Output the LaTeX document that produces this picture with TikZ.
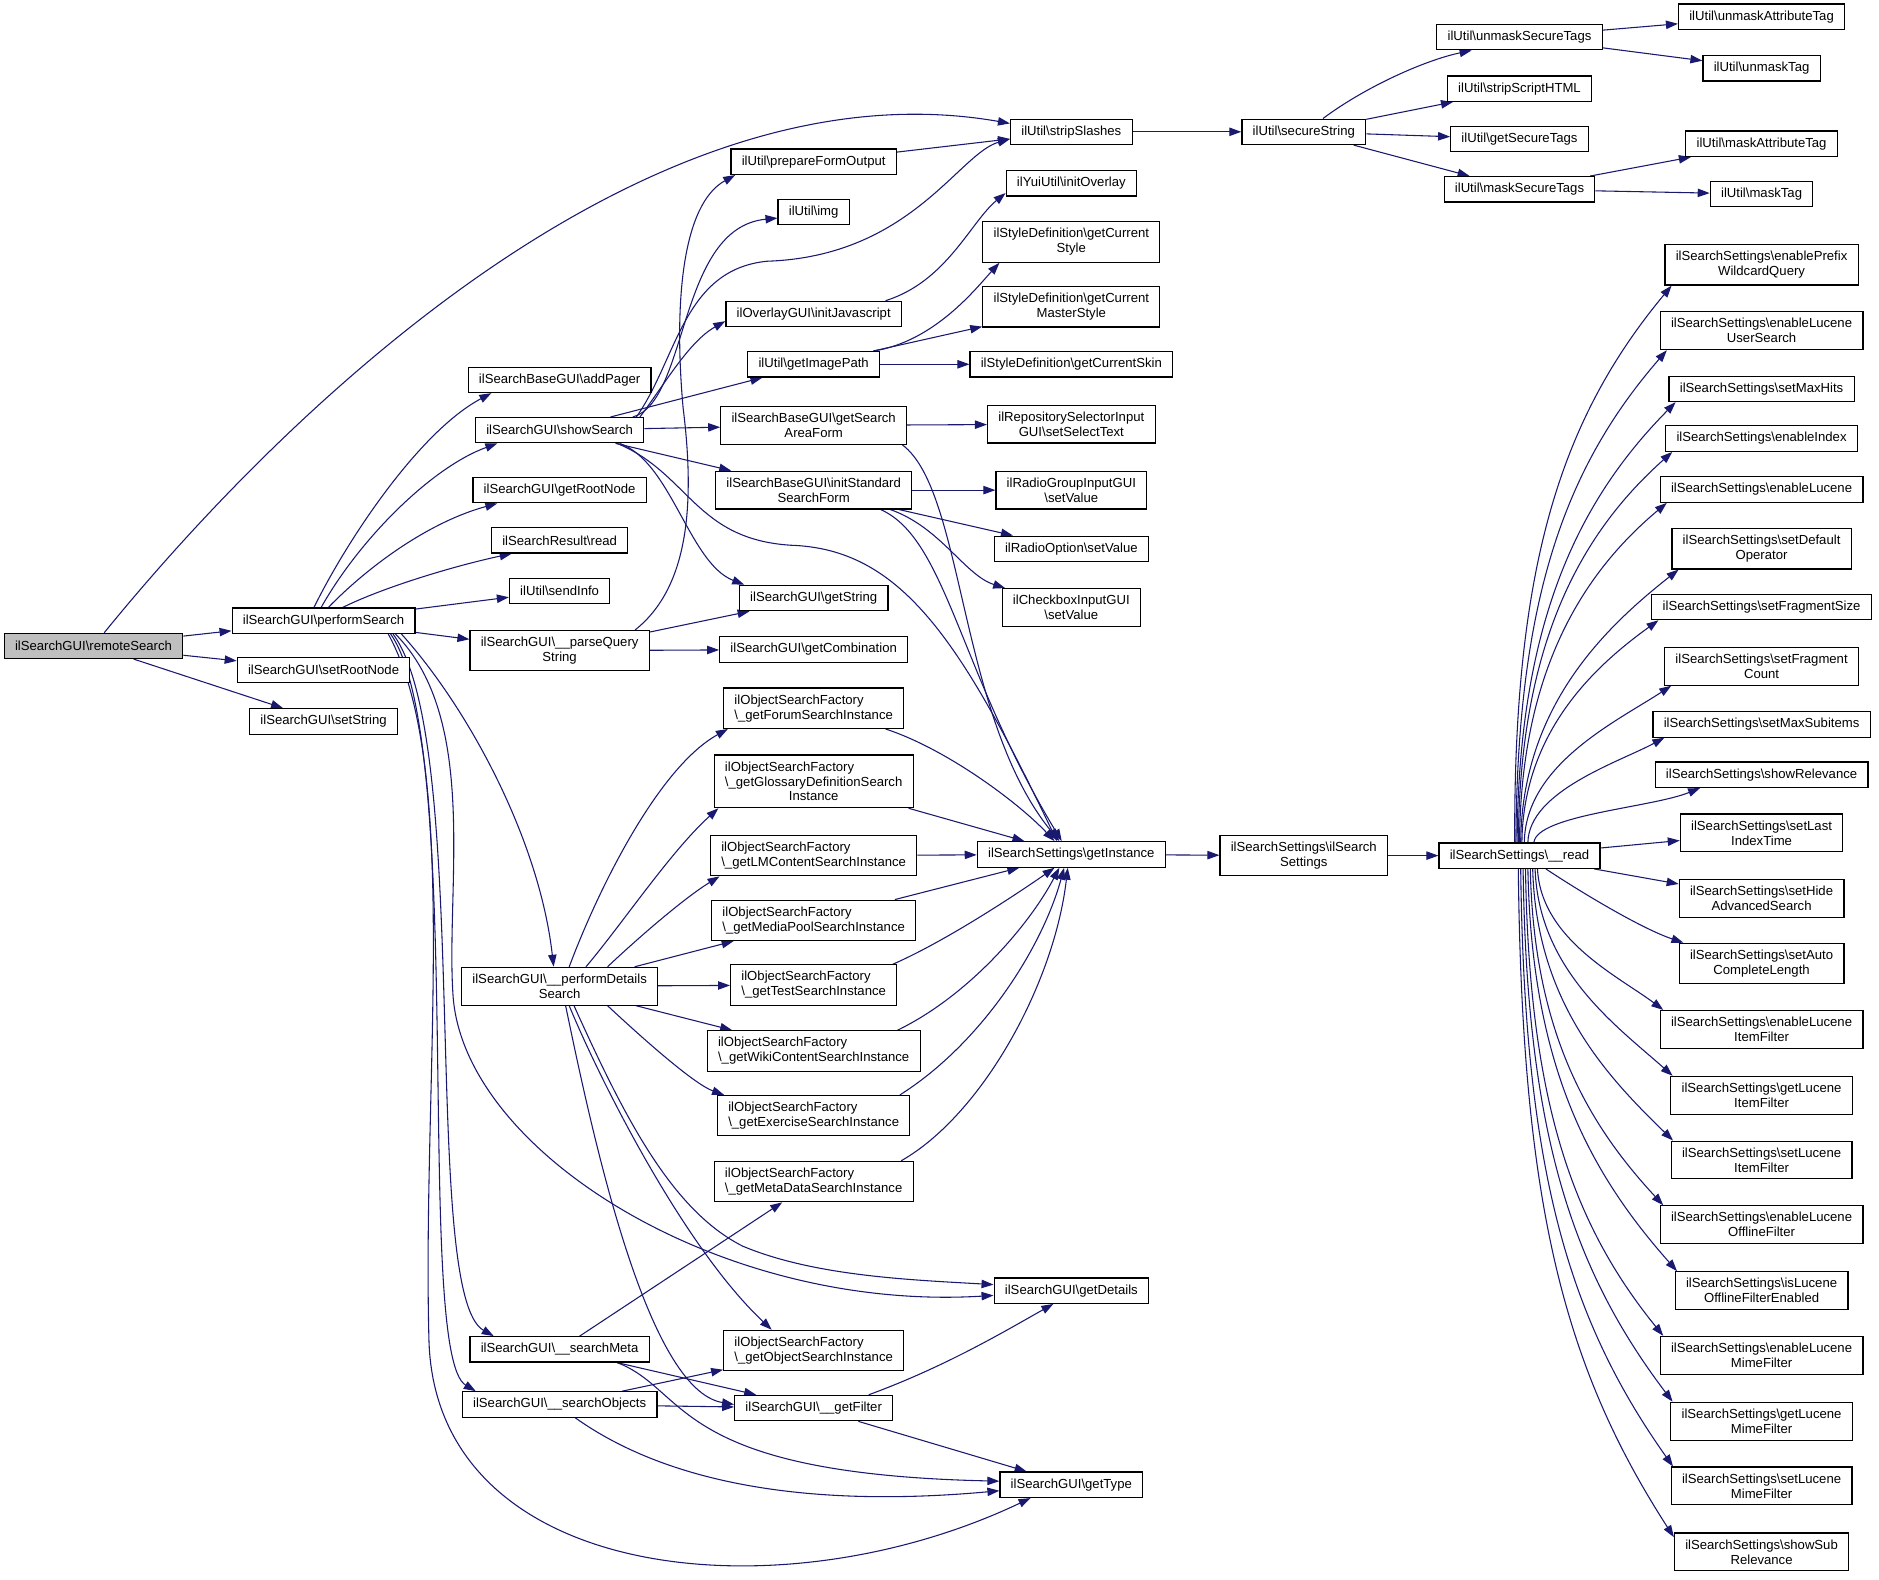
\documentclass[tikz,border=0pt]{standalone}
\usepackage{fontspec}
\setmainfont{Liberation Sans}
\usetikzlibrary{arrows.meta,backgrounds}
\definecolor{Edge}{RGB}{25,25,112}
\definecolor{Gfill}{RGB}{191,191,191}
\newcommand{\bsl}{\textbackslash}

\begin{document}
\begin{tikzpicture}[x=1bp,y=-1bp,line cap=round,
  fn/.style={draw,line width=1pt,fill=white,inner xsep=9bp,inner ysep=5.5bp,minimum height=21bp,font=\fontsize{11}{12.5}\selectfont,align=center},
  fac/.style={fn,align=left},
  call/.style={draw=Edge,line width=0.9pt,-{Triangle[length=10bp,width=7bp]}}]
\path[use as bounding box] (0,0) rectangle (1568,1317.7);
\node[fn,fill=Gfill] (rmt) at (78,539) {ilSearchGUI\bsl remoteSearch};
\node[fn] (prf) at (270,518) {ilSearchGUI\bsl performSearch};
\node[fn] (srn) at (270,559) {ilSearchGUI\bsl setRootNode};
\node[fn] (sst) at (270,602) {ilSearchGUI\bsl setString};
\node[fn] (apg) at (467,317) {ilSearchBaseGUI\bsl addPager};
\node[fn] (shw) at (467,359) {ilSearchGUI\bsl showSearch};
\node[fn] (grn) at (467,409) {ilSearchGUI\bsl getRootNode};
\node[fn] (rrd) at (467,451) {ilSearchResult\bsl read};
\node[fn] (sin) at (467,493) {ilUtil\bsl sendInfo};
\node[fn] (pqs) at (467,543) {ilSearchGUI\bsl\_\_parseQuery\\String};
\node[fn] (pds) at (467,823) {ilSearchGUI\bsl\_\_performDetails\\Search};
\node[fn] (smt) at (467,1126) {ilSearchGUI\bsl\_\_searchMeta};
\node[fn] (sob) at (467,1172) {ilSearchGUI\bsl\_\_searchObjects};
\node[fn] (pfo) at (679,135) {ilUtil\bsl prepareFormOutput};
\node[fn] (img) at (679,177) {ilUtil\bsl img};
\node[fn] (ijs) at (679,262) {ilOverlayGUI\bsl initJavascript};
\node[fn] (gip) at (679,304) {ilUtil\bsl getImagePath};
\node[fn] (gsa) at (679,355) {ilSearchBaseGUI\bsl getSearch\\AreaForm};
\node[fn] (iss) at (679,409) {ilSearchBaseGUI\bsl initStandard\\SearchForm};
\node[fn] (gst) at (679,499) {ilSearchGUI\bsl getString};
\node[fn] (gcb) at (679,542) {ilSearchGUI\bsl getCombination};
\node[fac] (fForum) at (679,591) {ilObjectSearchFactory\\\bsl\_getForumSearchInstance};
\node[fac] (fGloss) at (679,652) {ilObjectSearchFactory\\\bsl\_getGlossaryDefinitionSearch\\\hspace*{\fill}Instance\hspace*{\fill}};
\node[fac] (fLM) at (679,714) {ilObjectSearchFactory\\\bsl\_getLMContentSearchInstance};
\node[fac] (fMedia) at (679,768) {ilObjectSearchFactory\\\bsl\_getMediaPoolSearchInstance};
\node[fac] (fTest) at (679,822) {ilObjectSearchFactory\\\bsl\_getTestSearchInstance};
\node[fac] (fWiki) at (679,877) {ilObjectSearchFactory\\\bsl\_getWikiContentSearchInstance};
\node[fac] (fExer) at (679,931) {ilObjectSearchFactory\\\bsl\_getExerciseSearchInstance};
\node[fac] (fMeta) at (679,986) {ilObjectSearchFactory\\\bsl\_getMetaDataSearchInstance};
\node[fac] (fObj) at (679,1127) {ilObjectSearchFactory\\\bsl\_getObjectSearchInstance};
\node[fn] (gfl) at (679,1175) {ilSearchGUI\bsl\_\_getFilter};
\node[fn] (ssl) at (894,110) {ilUtil\bsl stripSlashes};
\node[fn] (iov) at (894,153) {ilYuiUtil\bsl initOverlay};
\node[fn] (gcs) at (894,202) {ilStyleDefinition\bsl getCurrent\\Style};
\node[fn] (gcm) at (894,256) {ilStyleDefinition\bsl getCurrent\\MasterStyle};
\node[fn] (gsk) at (894,304) {ilStyleDefinition\bsl getCurrentSkin};
\node[fn] (sel) at (894,354) {ilRepositorySelectorInput\\GUI\bsl setSelectText};
\node[fn] (rgv) at (894,409) {ilRadioGroupInputGUI\\\bsl setValue};
\node[fn] (rov) at (894,458) {ilRadioOption\bsl setValue};
\node[fn] (cbv) at (894,507) {ilCheckboxInputGUI\\\bsl setValue};
\node[fn] (gin) at (894,713) {ilSearchSettings\bsl getInstance};
\node[fn] (gdt) at (894,1077) {ilSearchGUI\bsl getDetails};
\node[fn] (gty) at (894,1239) {ilSearchGUI\bsl getType};
\node[fn] (sec) at (1088,110) {ilUtil\bsl secureString};
\node[fn] (ctor) at (1088,714) {ilSearchSettings\bsl ilSearch\\Settings};
\node[fn] (ust) at (1268,31) {ilUtil\bsl unmaskSecureTags};
\node[fn] (ssh) at (1268,74) {ilUtil\bsl stripScriptHTML};
\node[fn] (gtg) at (1268,116) {ilUtil\bsl getSecureTags};
\node[fn] (mst) at (1268,158) {ilUtil\bsl maskSecureTags};
\node[fn] (rd) at (1268,714) {ilSearchSettings\bsl\_\_read};
\node[fn] (uat) at (1470,14) {ilUtil\bsl unmaskAttributeTag};
\node[fn] (utg) at (1470,57) {ilUtil\bsl unmaskTag};
\node[fn] (mat) at (1470,120) {ilUtil\bsl maskAttributeTag};
\node[fn] (mtg) at (1470,162) {ilUtil\bsl maskTag};
\node[fn] (ePfx) at (1470,221) {ilSearchSettings\bsl enablePrefix\\WildcardQuery};
\node[fn] (eLus) at (1470,276) {ilSearchSettings\bsl enableLucene\\UserSearch};
\node[fn] (sMax) at (1470,324.5) {ilSearchSettings\bsl setMaxHits};
\node[fn] (eIdx) at (1470,366) {ilSearchSettings\bsl enableIndex};
\node[fn] (eLuc) at (1470,408.5) {ilSearchSettings\bsl enableLucene};
\node[fn] (sOp) at (1470,458) {ilSearchSettings\bsl setDefault\\Operator};
\node[fn] (sFrs) at (1470,506.5) {ilSearchSettings\bsl setFragmentSize};
\node[fn] (sFrc) at (1470,556) {ilSearchSettings\bsl setFragment\\Count};
\node[fn] (sSub) at (1470,604.5) {ilSearchSettings\bsl setMaxSubitems};
\node[fn] (shRel) at (1470,646.5) {ilSearchSettings\bsl showRelevance};
\node[fn] (sLast) at (1470,695) {ilSearchSettings\bsl setLast\\IndexTime};
\node[fn] (sHide) at (1470,750) {ilSearchSettings\bsl setHide\\AdvancedSearch};
\node[fn] (sAuto) at (1470,804) {ilSearchSettings\bsl setAuto\\CompleteLength};
\node[fn] (eItm) at (1470,859) {ilSearchSettings\bsl enableLucene\\ItemFilter};
\node[fn] (gItm) at (1470,914) {ilSearchSettings\bsl getLucene\\ItemFilter};
\node[fn] (sItm) at (1470,968) {ilSearchSettings\bsl setLucene\\ItemFilter};
\node[fn] (eOff) at (1470,1022) {ilSearchSettings\bsl enableLucene\\OfflineFilter};
\node[fn] (iOff) at (1470,1077) {ilSearchSettings\bsl isLucene\\OfflineFilterEnabled};
\node[fn] (eMime) at (1470,1131) {ilSearchSettings\bsl enableLucene\\MimeFilter};
\node[fn] (gMime) at (1470,1186) {ilSearchSettings\bsl getLucene\\MimeFilter};
\node[fn] (sMime) at (1470,1240) {ilSearchSettings\bsl setLucene\\MimeFilter};
\node[fn] (shSub) at (1470,1295) {ilSearchSettings\bsl showSub\\Relevance};
\begin{scope}[on background layer]
\draw[call] (rmt) .. controls (240,340) and (540,50) .. ([yshift=7bp]ssl.west);
\draw[call] (rmt) -- (prf);
\draw[call] (rmt) -- (srn);
\draw[call] (rmt) -- (sst);
\draw[call] ([xshift=-8bp]prf.north) .. controls (290,450) and (350,360) .. ([xshift=-57bp]apg.south);
\draw[call] ([xshift=-2bp]prf.north) .. controls (300,450) and (360,390) .. ([xshift=-52bp]shw.south);
\draw[call] ([xshift=4bp]prf.north) .. controls (310,470) and (360,435) .. ([xshift=-52bp]grn.south);
\draw[call] ([xshift=16bp]prf.north) .. controls (320,490) and (380,472) .. ([xshift=-40bp]rrd.south);
\draw[call] (prf) -- (sin);
\draw[call] (prf) -- (pqs);
\draw[call] ([xshift=65bp]prf.south) .. controls (390,590) and (450,700) .. ([xshift=-5bp]pds.north);
\draw[call] ([xshift=60bp]prf.south) .. controls (400,600) and (372,740) .. (378,830) .. controls (386,960) and (600,1095) .. ([yshift=-4bp]gdt.west);
\draw[call] ([xshift=58bp]prf.south) .. controls (395,620) and (350,1080) .. ([xshift=-55bp]smt.north);
\draw[call] ([xshift=56bp]prf.south) .. controls (390,620) and (345,1130) .. ([xshift=-70bp]sob.north);
\draw[call] ([xshift=54bp]prf.south) .. controls (385,640) and (352,900) .. (358,1120) .. controls (365,1320) and (650,1350) .. ([xshift=-34bp]gty.south);
\draw[call] ([xshift=61bp]shw.north) .. controls (575,335) and (565,190) .. ([yshift=-5bp]img.west);
\draw[call] ([xshift=64bp]shw.north) .. controls (565,300) and (570,225) .. (640,218) .. controls (760,214) and (800,128) .. ([yshift=-6bp]ssl.west);
\draw[call] ([xshift=67bp]shw.north) .. controls (555,320) and (575,285) .. ([yshift=-6bp]ijs.west);
\draw[call] (shw) -- (gip);
\draw[call] (shw) -- (gsa);
\draw[call] (shw) -- (iss);
\draw[call] ([xshift=50bp]shw.south) .. controls (560,385) and (575,470) .. ([xshift=-58bp]gst.north);
\draw[call] ([xshift=48bp]shw.south) .. controls (575,395) and (580,450) .. (660,455) .. controls (750,458) and (800,530) .. ([xshift=-12bp]gin.north);
\draw[call] ([xshift=63bp]pqs.north) .. controls (575,490) and (580,420) .. (570,340) .. controls (562,250) and (570,170) .. ([xshift=4bp]pfo.south west);
\draw[call] (pqs) -- (gst);
\draw[call] (pqs) -- (gcb);
\draw[call] ([xshift=8bp]pds.north) .. controls (500,740) and (550,640) .. ([xshift=4bp]fForum.south west);
\draw[call] ([xshift=22bp]pds.north) .. controls (520,770) and (560,710) .. ([xshift=4bp]fGloss.south west);
\draw[call] ([xshift=40bp]pds.north) .. controls (530,785) and (570,750) .. ([xshift=8bp]fLM.south west);
\draw[call] (pds) -- (fMedia);
\draw[call] (pds) -- (fTest);
\draw[call] (pds) -- (fWiki);
\draw[call] ([xshift=40bp]pds.south) .. controls (540,870) and (580,905) .. ([xshift=6bp]fExer.north west);
\draw[call] ([xshift=8bp]pds.south) .. controls (500,900) and (570,1040) .. ([xshift=-35bp]fObj.north);
\draw[call] ([xshift=5bp]pds.south) .. controls (495,950) and (540,1160) .. ([yshift=3bp]gfl.west);
\draw[call] ([xshift=12bp]pds.south) .. controls (520,930) and (560,1010) .. (620,1040) .. controls (680,1065) and (760,1068) .. ([yshift=5bp]gdt.west);
\draw[call] (smt) -- (fMeta);
\draw[call] (smt) -- (gfl);
\draw[call] ([xshift=48bp]smt.south) .. controls (575,1160) and (560,1230) .. ([yshift=3bp]gty.west);
\draw[call] (sob) -- (fObj);
\draw[call] (sob) -- (gfl);
\draw[call] ([xshift=13bp]sob.south) .. controls (560,1240) and (680,1258) .. ([yshift=-5bp]gty.west);
\draw[call] ([xshift=46bp]gfl.north) .. controls (790,1140) and (840,1110) .. ([xshift=-15bp]gdt.south);
\draw[call] (gfl) -- (gty);
\draw[call] ([xshift=60bp]fForum.south) .. controls (790,625) and (850,670) .. ([xshift=-14bp]gin.north);
\draw[call] (fGloss) -- (gin);
\draw[call] (fLM) -- (gin);
\draw[call] (fMedia) -- (gin);
\draw[call] ([xshift=66bp]fTest.north) .. controls (790,785) and (850,745) .. ([xshift=-14bp]gin.south);
\draw[call] ([xshift=70bp]fWiki.north) .. controls (810,830) and (860,770) .. ([xshift=-10bp]gin.south);
\draw[call] ([xshift=72bp]fExer.north) .. controls (820,870) and (870,790) .. ([xshift=-6bp]gin.south);
\draw[call] ([xshift=73bp]fMeta.north) .. controls (820,930) and (880,820) .. ([xshift=-3bp]gin.south);
\draw[call] (gsa) -- (sel);
\draw[call] ([xshift=-4bp]gsa.south east) .. controls (805,410) and (800,600) .. ([xshift=-10bp]gin.north);
\draw[call] (iss) -- (rgv);
\draw[call] (iss) -- (rov);
\draw[call] ([xshift=56bp]iss.south) .. controls (790,450) and (800,560) .. ([xshift=-8bp]gin.north);
\draw[call] ([xshift=64bp]iss.south) .. controls (785,440) and (805,480) .. ([xshift=3bp]cbv.north west);
\draw[call] ([xshift=50bp]gip.north) .. controls (780,285) and (815,240) .. ([xshift=-60bp]gcs.south);
\draw[call] (gip) -- (gcm);
\draw[call] (gip) -- (gsk);
\draw[call] ([xshift=60bp]ijs.north) .. controls (790,235) and (810,185) .. ([yshift=3bp]iov.south west);
\draw[call] (pfo) -- (ssl);
\draw[call] (ssl) -- (sec);
\draw[call] ([xshift=16bp]sec.north) .. controls (1140,72) and (1190,50) .. ([xshift=-40bp]ust.south);
\draw[call] (sec) -- (ssh);
\draw[call] (sec) -- (gtg);
\draw[call] (sec) -- (mst);
\draw[call] (ust) -- (uat);
\draw[call] (ust) -- (utg);
\draw[call] (mst) -- (mat);
\draw[call] (mst) -- (mtg);
\draw[call] (gin) -- (ctor);
\draw[call] (ctor) -- (rd);
\draw[call] ([xshift=-4bp]rd.north) .. controls (1263,471) and (1303,349) .. ([xshift=6bp]ePfx.south west);
\draw[call] ([xshift=-3bp]rd.north) .. controls (1266,498) and (1307,389) .. ([xshift=6bp]eLus.south west);
\draw[call] ([xshift=-2bp]rd.north) .. controls (1267,520) and (1317,418) .. ([xshift=6bp]sMax.south west);
\draw[call] ([xshift=-1bp]rd.north) .. controls (1268,540) and (1317,447) .. ([xshift=6bp]eIdx.south west);
\draw[call] (rd.north) .. controls (1269,561) and (1320,479) .. ([xshift=6bp]eLuc.south west);
\draw[call] ([xshift=1bp]rd.north) .. controls (1270,590) and (1339,524) .. ([xshift=6bp]sOp.south west);
\draw[call] ([xshift=2bp]rd.north) .. controls (1271,610) and (1332,555) .. ([xshift=6bp]sFrs.south west);
\draw[call] ([xshift=4bp]rd.north) .. controls (1273,638) and (1349,602) .. ([xshift=6bp]sFrc.south west);
\draw[call] ([xshift=7bp]rd.north) .. controls (1276,660) and (1351,636) .. ([xshift=10bp]sSub.south west);
\draw[call] ([xshift=12bp]rd.north) .. controls (1283,680) and (1378,674) .. ([xshift=38bp]shRel.south west);
\draw[call] (rd) -- (sLast);
\draw[call] (rd) -- (sHide);
\draw[call] ([xshift=22bp]rd.south) .. controls (1320,745) and (1370,775) .. ([xshift=4bp]sAuto.north west);
\draw[call] ([xshift=15bp]rd.south) .. controls (1286,784) and (1351,815) .. ([xshift=3bp]eItm.north west);
\draw[call] ([xshift=13bp]rd.south) .. controls (1284,810) and (1350,857) .. ([xshift=2bp]gItm.north west);
\draw[call] ([xshift=11bp]rd.south) .. controls (1282,837) and (1342,899) .. ([xshift=2bp]sItm.north west);
\draw[call] ([xshift=9bp]rd.south) .. controls (1280,864) and (1327,940) .. ([xshift=3bp]eOff.north west);
\draw[call] ([xshift=7bp]rd.south) .. controls (1278,892) and (1328,980) .. ([xshift=2bp]iOff.north west);
\draw[call] ([xshift=5bp]rd.south) .. controls (1276,919) and (1312,1021) .. ([xshift=3bp]eMime.north west);
\draw[call] ([xshift=3bp]rd.south) .. controls (1274,946) and (1312,1059) .. ([xshift=2bp]gMime.north west);
\draw[call] ([xshift=1bp]rd.south) .. controls (1272,973) and (1307,1098) .. ([xshift=2bp]sMime.north west);
\draw[call] ([xshift=-1bp]rd.south) .. controls (1270,1003) and (1304,1139) .. ([yshift=-4bp]shSub.north west);
\end{scope}
\end{tikzpicture}
\end{document}
